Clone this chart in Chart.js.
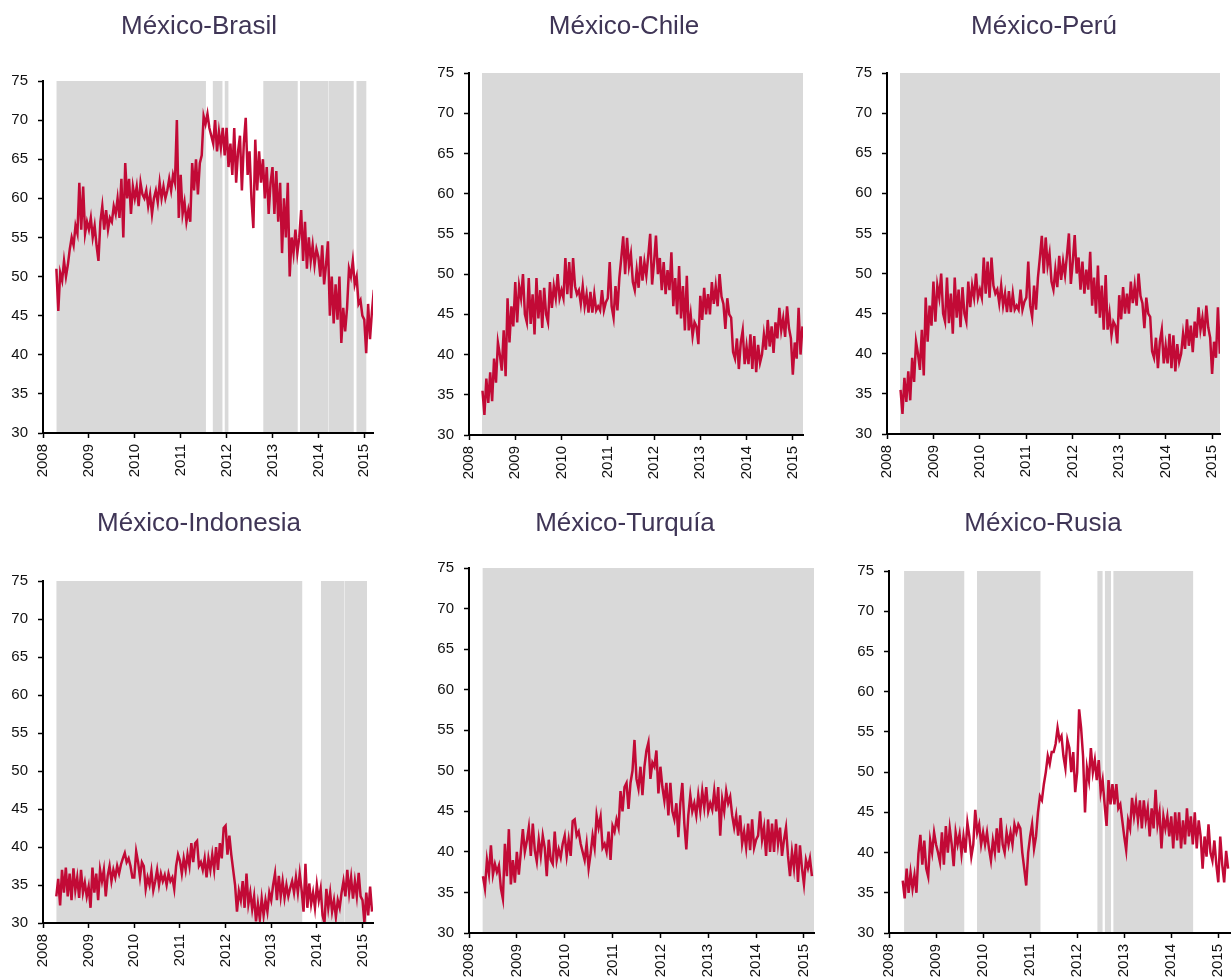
<!DOCTYPE html>
<html lang="es">
<head>
<meta charset="UTF-8" />
<title>México - correlaciones</title>
<script src="https://cdn.jsdelivr.net/npm/chart.js"></script>
<style>
  html, body { margin: 0; padding: 0; background: #fff; overflow: hidden; }
  #page { position: relative; width: 1231px; height: 980px; overflow: hidden; }
  #page canvas { position: absolute; }
</style>
</head>
<body>
<div id="page"></div>
<script>
// eje X: años, eje Y: 30-75
const years = [2008, 2009, 2010, 2011, 2012, 2013, 2014, 2015];
const yTicks = [30, 35, 40, 45, 50, 55, 60, 65, 70, 75];

// series quincenales, desde abril 2008
const START = 2008 + 7 / 24;
const STEP = 1 / 24;

const brasil = [
  51, 45.6, 50.5, 49.5, 52, 50, 51.5, 53.5, 55, 54, 56.5, 55.5, 62, 56, 61.5, 55.5, 57,
  56, 57.5, 55, 56.5, 54, 52, 57, 59, 56, 58.5, 56, 57.5, 57, 59, 58, 60, 57.5, 62.5, 55, 64.5, 60, 62.5, 58, 61.5,
  60, 61.5, 59, 62, 60.5, 60, 61, 59, 60.5, 58, 60, 61, 59.5, 62, 60, 61.5, 60, 61, 62.5, 61, 63, 62, 70, 57.5,
  63, 58, 59.5, 57, 58.5, 57, 64.5, 61, 65, 60.5, 64.5, 65.5, 70.5, 69.5, 70.8, 69, 68, 67, 70, 66, 68.5, 66.5, 69, 65.5,
  69, 64, 67, 63, 69, 62, 66, 68, 61, 67, 70.3, 63, 66, 60, 56.2, 67.5, 61, 66, 62, 65, 60, 64, 58, 62,
  64, 58, 63.5, 57, 62, 53, 60, 55, 62, 50, 55, 53, 56, 53, 55, 58.5, 52, 57, 51, 55, 52, 54, 51.5, 53.5,
  52.5, 50, 54, 49, 51.5, 54.5, 45, 50, 44, 49, 44.5, 50, 41.5, 46, 43, 46, 51, 50, 52, 49, 50, 46.5, 47, 45,
  44.5, 40.2, 46.5, 42, 45.5, 48.3
];

const chile = [
  35.5, 32.5, 37, 34, 37.8, 34.2, 39.5, 36.5, 41.5, 40, 38, 43, 37.3, 47, 41.5, 46, 43.5,
  49, 44, 48.5, 47, 50, 45, 44, 49.5, 43.8, 47.5, 42.5, 49.5, 44.5, 48, 43.3, 48.3, 45, 44, 49, 45.8, 48.5, 47, 50, 47,
  48, 47, 52, 47.5, 51.5, 47, 52, 48.5, 47.5, 48, 46.3, 48.5, 46, 47.5, 45.2, 47.8, 45.2, 47.5, 45.5, 46, 45.5, 48, 45.5, 46.5,
  47, 51.5, 46, 44.6, 48.5, 45.5, 49.5, 52, 54.7, 50, 54.5, 51, 52.5, 49, 48, 50.5, 48.3, 52.2, 49.2, 51.5, 49.8, 52.3, 55, 48.7,
  51.5, 54.8, 50, 52, 48, 51.5, 47.5, 50.5, 48, 52.7, 46, 49.5, 45, 51, 44.5, 48.5, 43, 49.8, 43, 45, 42.3, 44, 43.5, 41.3,
  47.3, 44.3, 48.3, 45, 47.5, 45, 49, 46.3, 48.5, 46, 50, 47.2, 46.3, 43.2, 47, 45, 44.6, 40.3, 39.5, 42, 38.2, 41.5, 43, 38.8,
  41, 38.8, 42.5, 38.2, 42.3, 37.8, 41.2, 39, 40, 42.5, 40.6, 44.3, 41, 43.5, 40.2, 44, 42, 45.8, 43, 44.5, 42.2, 46, 43.3, 42,
  37.5, 41.5, 39.5, 45.8, 40, 43.5
];

// el panel de Perú muestra la misma serie que Chile
const peru = chile.slice();

const indonesia = [
  33.5, 35.8, 32.3, 37, 34, 37.3, 33.5, 36.5, 33, 37.2, 34.3, 36, 33.3, 37, 34, 35.3, 33.5,
  34.8, 32, 37.3, 34, 36.5, 33, 37, 35.5, 37, 33.5, 36.2, 37.5, 35.5, 37, 36, 37.5, 36.5, 37.7, 38.5, 39.2, 38, 38.5, 37.5, 36,
  36, 39.4, 38, 36, 38, 37.5, 34.5, 36, 35, 36.8, 34.3, 35.5, 37, 35, 36.5, 35.5, 36.3, 35, 36.5, 35.5, 36, 34.5, 37.5, 39,
  38.2, 36.5, 38.5, 37, 39, 37.5, 40.5, 38, 40.5, 40.8, 37.5, 38, 37, 38.5, 36, 38.5, 37, 39, 37, 40, 37, 40.5, 38.5, 42.5,
  42.8, 39, 41.5, 39, 37, 35, 31.5, 34.2, 33, 35.5, 32, 36.5, 32.5, 34, 31.8, 33.5, 30.2, 32.5, 30.5, 33.2, 31, 33, 31.5, 34,
  33, 35, 36.5, 33, 36.2, 33.5, 35.5, 33.3, 35, 33.5, 34.6, 35.5, 34, 36, 34, 36.5, 34.3, 31.5, 37.8, 32, 35.2, 32.5, 34, 32,
  35, 33, 34.5, 31, 30, 34.5, 32, 34, 31.5, 33, 30.8, 33, 32, 34, 35.5, 33.5, 37, 34, 36, 33.2, 35.5, 33.5, 36.6, 33.5,
  33, 30, 34, 31, 34.8, 31.5
];

const turquia = [
  37, 35.5, 39, 37.3, 40.8, 37.2, 38.5, 37.5, 38.3, 35.5, 34.2, 41, 37, 42.8, 36, 39, 36.2,
  40, 37.2, 40, 42.8, 40, 41.3, 43, 39.5, 43.5, 40.2, 38.8, 41.5, 39.5, 42, 40.5, 37, 41.5, 39, 38.5, 42.5, 39, 40.3, 39.3, 41,
  42, 39.5, 41.5, 39.5, 43.8, 44, 42, 42.5, 41, 40, 39, 41, 38, 39.8, 42, 40.5, 44.5, 43, 44.3, 40.5, 41, 40, 42.5, 39,
  43.2, 42.5, 44, 43, 47.5, 45, 48, 48.5, 45.3, 48.5, 50, 53.8, 49, 47.8, 50.5, 47, 50.5, 52.5, 53.5, 49, 51, 50.5, 52.5, 47.2,
  50.5, 48, 46.3, 48.5, 44.5, 48.5, 45, 44, 46, 41.8, 46, 48.5, 43.5, 40.3, 44.5, 47, 45, 46, 44.5, 47, 45, 47.5, 45.5, 48,
  45, 46, 45.2, 47.5, 45, 48, 42, 46.5, 45, 47.5, 46, 46.8, 44.5, 43, 44.5, 42, 44.5, 41, 42.5, 40.5, 43.5, 40.2, 44, 40.5,
  41.5, 42, 45, 41.5, 43, 39.5, 44, 40, 43.5, 40, 44, 41, 43, 39.5, 41.5, 43, 39.5, 37, 40, 38, 41, 36.3, 40.8, 38,
  36, 39, 38, 39.2, 37
];

const rusia = [
  36.5, 34.3, 38, 35, 37.5, 35.5, 37.2, 35, 39.8, 42.2, 38.5, 41.5, 38, 37, 41.5, 40, 42.5,
  41, 40, 38.8, 42.5, 38.5, 43.3, 40, 43, 41, 38.3, 42.5, 41, 42.3, 39.8, 42, 40, 43.7, 42, 39.5, 41, 45.3, 42.5, 43.5, 41,
  42.5, 41, 42.5, 40.5, 39, 41.5, 40, 43, 40, 44.3, 41, 40, 42.5, 41, 42.5, 41, 43.5, 42.5, 43.5, 43, 40, 38, 35.9, 40,
  42, 43.5, 40.5, 42, 45, 47, 46.5, 48.5, 50, 52, 51, 52.5, 52.5, 53.5, 55.5, 54, 54.5, 52, 50.5, 54, 53, 50, 52.5, 47.5,
  50, 57.8, 55.5, 52, 45, 50.5, 49, 53, 50, 51.5, 49, 51.5, 47.5, 49, 46, 43.3, 49, 46, 48.5, 46, 48.5, 45.5, 46, 44,
  42, 40.3, 44, 43, 46.8, 44.5, 46.3, 44, 46.5, 43, 46.5, 44, 45.5, 42, 45.5, 43, 47.8, 43.5, 45, 40.5, 44.5, 43, 44.5, 42,
  44.5, 40.5, 45, 41.5, 45, 40.5, 44, 41, 45.5, 42, 44.5, 41, 45, 40.5, 44, 42, 38, 42, 39.5, 43.5, 40, 39, 41.5, 38.5,
  36.3, 42, 38.5, 36.3, 40.2, 38
];

// periodos sombreados [inicio, fin] en años
const bandsBrasil = [[2008.29, 2011.55], [2011.70, 2011.91], [2011.96, 2012.04], [2012.80, 2013.55],
                     [2013.60, 2014.21], [2014.22, 2014.77], [2014.83, 2015.05]];
const bandsChile = [[2008.28, 2015.3]];
const bandsPeru = [[2008.28, 2015.3]];
const bandsIndonesia = [[2008.29, 2013.68], [2014.09, 2014.60], [2014.61, 2015.10]];
const bandsTurquia = [[2008.28, 2015.3]];
const bandsRusia = [[2008.32, 2009.60], [2009.87, 2011.22], [2012.43, 2012.54], [2012.59, 2012.72], [2012.77, 2014.47]];

const RED = '#c20a36';
const GRAY = '#d9d9d9';
const FONT = "'Liberation Sans', Arial, sans-serif";

// posición de cada panel en la página; titleX = centro del título
const panels = [
  { title: 'México-Brasil', values: brasil, bands: bandsBrasil, left: 0, top: 0, w: 393, h: 478, yW: 43, xMax: 2015.19, titleX: 199, tTop: 11.4, tBot: 38.4 },
  { title: 'México-Chile', values: chile, bands: bandsChile, left: 425, top: 0, w: 398, h: 480, yW: 44, xMax: 2015.22, titleX: 624, tTop: 11.4, tBot: 30.4 },
  { title: 'México-Perú', values: peru, bands: bandsPeru, left: 843, top: 0, w: 397, h: 479, yW: 44, xMax: 2015.17, titleX: 1044, tTop: 11.4, tBot: 30.4 },
  { title: 'México-Indonesia', values: indonesia, bands: bandsIndonesia, left: 0, top: 490, w: 393, h: 478, yW: 43, xMax: 2015.23, titleX: 199, tTop: 18.4, tBot: 41.4 },
  { title: 'México-Turquía', values: turquia, bands: bandsTurquia, left: 425, top: 490, w: 409, h: 488, yW: 44, xMax: 2015.21, titleX: 625, tTop: 18.4, tBot: 28.4 },
  { title: 'México-Rusia', values: rusia, bands: bandsRusia, left: 845, top: 490, w: 406, h: 488, yW: 44, xMax: 2015.27, titleX: 1043, tTop: 18.4, tBot: 31.4 }
];
const PAD_RIGHT = 20;

function toPoints(values) {
  return values.map((v, i) => ({ x: START + i * STEP, y: v }));
}

// cada periodo sube a 75 en su inicio y baja a 30 en su fin (línea escalonada rellena)
function bandPoints(bands) {
  return bands.flatMap(([a, b]) => [{ x: a, y: 75 }, { x: b, y: 30 }]);
}

// mueve el bloque del título para que quede centrado donde en el original
const titleShift = {
  id: 'titleShift',
  afterLayout(chart, args, opts) {
    const t = chart.titleBlock;
    if (!t || opts.centre == null) return;
    const d = opts.centre - (t.left + t.right) / 2;
    t.left += d;
    t.right += d;
  }
};

const page = document.getElementById('page');

panels.forEach(p => {
  const cv = document.createElement('canvas');
  cv.width = p.w;
  cv.height = p.h;
  cv.style.left = p.left + 'px';
  cv.style.top = p.top + 'px';
  cv.style.width = p.w + 'px';
  cv.style.height = p.h + 'px';
  page.appendChild(cv);

  new Chart(cv.getContext('2d'), {
    type: 'line',
    data: {
      datasets: [
        {
          data: toPoints(p.values),
          borderColor: RED,
          borderWidth: 2.5,
          borderJoinStyle: 'miter',
          pointRadius: 0,
          tension: 0,
          fill: false,
          order: 0
        },
        {
          data: bandPoints(p.bands),
          stepped: true,
          borderWidth: 0,
          borderColor: 'rgba(0,0,0,0)',
          backgroundColor: GRAY,
          pointRadius: 0,
          fill: 'start',
          order: 1
        }
      ]
    },
    plugins: [titleShift],
    options: {
      responsive: false,
      animation: false,
      devicePixelRatio: 1,
      layout: { padding: { left: 0, top: 0, bottom: 0, right: PAD_RIGHT } },
      plugins: {
        legend: { display: false },
        tooltip: { enabled: false },
        titleShift: { centre: p.titleX - p.left },
        title: {
          display: true,
          text: p.title,
          color: '#3f3556',
          font: { family: FONT, size: 26, weight: 'normal' },
          padding: { top: p.tTop, bottom: p.tBot }
        }
      },
      scales: {
        x: {
          type: 'linear',
          min: 2008,
          max: p.xMax,
          afterBuildTicks: s => { s.ticks = years.map(v => ({ value: v })); },
          afterFit: s => { s.height = 45; },
          grid: { drawOnChartArea: false, drawTicks: true, tickLength: 5, tickColor: '#000', tickWidth: 1.5 },
          border: { display: true, color: '#000', width: 2, z: 1 },
          ticks: {
            autoSkip: false,
            minRotation: 90,
            maxRotation: 90,
            padding: 6,
            color: '#111',
            font: { family: FONT, size: 15 },
            callback: v => String(v)
          }
        },
        y: {
          type: 'linear',
          min: 30,
          max: 75,
          afterBuildTicks: s => { s.ticks = yTicks.map(v => ({ value: v })); },
          afterFit: s => { s.width = p.yW; },
          grid: { drawOnChartArea: false, drawTicks: true, tickLength: 5, tickColor: '#000', tickWidth: 1.5 },
          border: { display: true, color: '#000', width: 2, z: 1 },
          ticks: {
            padding: 10,
            color: '#111',
            font: { family: FONT, size: 15 },
            callback: v => String(v)
          }
        }
      }
    }
  });
});
</script>
</body>
</html>
